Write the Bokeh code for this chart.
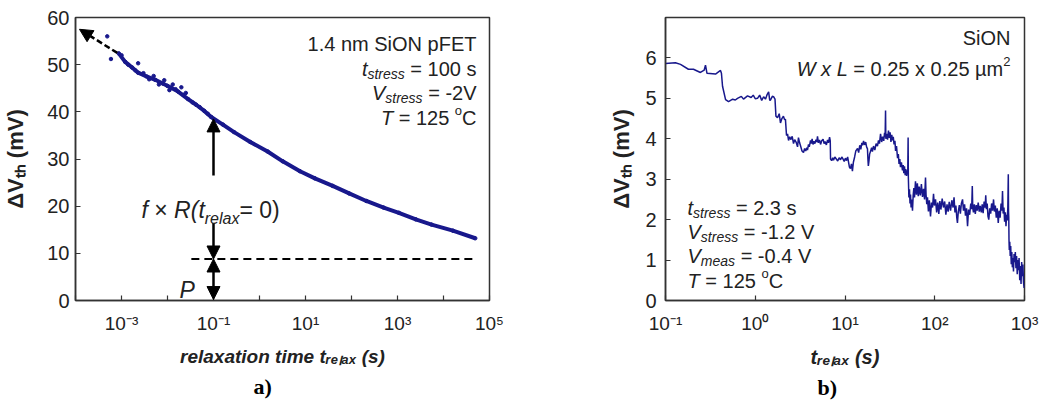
import math
from bokeh.plotting import figure
from bokeh.layouts import row
from bokeh.models import Label, Arrow, NormalHead, FixedTicker, Title
from bokeh.embed import file_html
from bokeh.resources import INLINE

# ---------------- data ----------------
# a) 1.4 nm SiON pFET relaxation (main band)
LEFT_T = [8.7e-4, 1.2e-3, 1.7e-3, 2.3e-3, 3.5e-3, 5.4e-3, 7.9e-3, 1.2e-2, 1.7e-2, 2.8e-2,
          4.2e-2, 6.3e-2, 8.9e-2, 0.16, 0.28, 0.63, 1.5, 3.2, 7.6, 16,
          39, 89, 210, 500, 1070, 2500, 5500, 1.6e4, 4.9e4]
LEFT_V = [52.4, 50.6, 49.4, 48.3, 47.5, 46.8, 46.0, 45.1, 44.3, 42.7,
          41.5, 40.2, 38.9, 37.3, 35.7, 33.6, 31.6, 29.5, 27.4, 25.9,
          24.3, 22.7, 21.1, 19.7, 18.6, 17.2, 16.1, 14.8, 13.2]
# a) scattered individual points of the early, noisy part
LEFT_DOT_T = [4.9e-4, 5.9e-4, 1.0e-3, 1.4e-3, 2.3e-3, 2.0e-3, 3.0e-3, 4.0e-3, 5.0e-3, 6.5e-3,
              8.5e-3, 1.0e-2, 1.1e-2, 1.3e-2, 1.5e-2, 2.0e-2, 2.2e-2, 2.5e-2, 3.5e-2, 5.0e-2, 7.5e-2]
LEFT_DOT_V = [56.0, 51.2, 52.0, 50.0, 50.3, 48.8, 48.2, 46.9, 47.6, 45.8,
              46.7, 45.5, 44.6, 45.8, 44.8, 45.2, 43.6, 44.0, 42.0, 41.0, 39.6]
P_LEVEL = 8.8
P_LINE_T = [0.033, 4.5e4]

# b) SiON W x L = 0.25 x 0.25 um^2 single-device relaxation
RIGHT_T = [0.100, 0.129, 0.147, 0.180, 0.205, 0.245, 0.270, 0.279, 0.290, 0.361,
           0.410, 0.420, 0.432, 0.467, 0.504, 0.560, 0.600, 0.634, 0.700, 0.740,
           0.820, 0.900, 0.950, 1.00, 1.06, 1.12, 1.18, 1.24, 1.30, 1.36,
           1.41, 1.45, 1.48, 1.55, 1.60, 1.66, 1.70, 1.77, 1.85, 1.91,
           1.98, 2.06, 2.12, 2.17,
           2.23, 2.29, 2.35, 2.42, 2.50, 2.58, 2.67, 2.75, 2.85, 2.96,
           3.03, 3.12, 3.20, 3.32, 3.45, 3.55, 3.65, 3.75, 3.82, 3.92,
           4.00, 4.13, 4.22, 4.30, 4.40, 4.50, 4.62, 4.75, 4.85, 4.94,
           5.05, 5.20, 5.34, 5.50, 5.70, 5.85, 6.00, 6.20, 6.39, 6.55,
           6.73, 6.85, 6.90, 7.10, 7.30, 7.45, 7.70, 8.00, 8.30, 8.60,
           8.92, 9.20, 9.50, 9.80, 10.1, 10.4, 10.7, 11.0, 11.2, 11.5,
           11.8, 12.1, 12.4, 12.8, 13.2, 13.8, 14.2, 14.6, 15.0, 15.4,
           15.7, 16.1, 16.5, 17.0, 17.4, 17.8, 18.0, 18.2, 18.5, 18.8,
           19.3, 19.8, 20.2, 20.8, 21.5, 22.2, 23.0, 23.6, 24.2, 24.9,
           25.6, 26.3, 27.0, 27.6, 28.0, 28.3, 28.5, 29.0, 29.8, 30.5,
           31.2, 31.8, 32.5, 33.2, 33.8, 34.5, 35.2, 36.0, 36.6, 37.5,
           38.5, 39.3, 40.0, 40.8, 41.5, 42.5, 43.7, 44.5, 45.2, 46.0,
           46.8, 47.5, 48.5, 49.3, 50.0, 50.5, 50.8, 51.5, 52.3, 53.0,
           53.7, 54.5, 55.5, 56.5, 57.5, 58.5, 59.5, 61.0, 62.5, 64.0,
           65.5, 67.0, 69.0, 71.0, 73.0, 75.0, 77.0, 78.9, 80.0, 81.5,
           83.0, 85.0, 87.0, 89.7, 92.0, 94.5, 96.9, 99.0, 102, 105,
           108, 111, 114, 117, 121, 125, 129, 133, 137, 141,
           145, 150, 155, 160, 164, 168, 172, 176, 179, 183,
           188, 193, 198, 204, 209, 215, 220, 226, 232, 238,
           245, 252, 258, 262, 265, 270, 276, 283, 290, 297,
           305, 313, 321, 330, 338, 346, 355, 364, 370, 376,
           384, 392, 400, 410, 420, 430, 441, 452, 462, 473,
           485, 497, 510, 522, 535, 548, 560, 569, 578, 590,
           600, 612, 622, 632, 643, 652, 660, 664, 668, 672,
           677, 685, 693, 702, 712, 722, 732, 743, 754, 765,
           777, 790, 803, 816, 830, 843, 857, 870, 885, 900,
           915, 930, 945, 960, 975, 990]
RIGHT_V = [5.86, 5.88, 5.84, 5.72, 5.72, 5.64, 5.70, 5.82, 5.62, 5.60,
           5.69, 5.62, 5.30, 4.97, 4.92, 4.98, 4.96, 5.00, 5.05, 4.98,
           5.06, 5.02, 5.08, 4.99, 5.00, 5.08, 4.95, 5.04, 4.98, 5.10,
           5.16, 4.95, 4.96, 5.05, 5.04, 4.98, 4.56, 4.52, 4.62, 4.39,
           4.50, 4.56, 4.48, 4.48,
           4.08, 4.12, 3.96, 4.05, 3.98, 4.06, 3.88, 3.98, 3.92, 3.80,
           4.03, 3.90, 3.82, 3.70, 3.66, 3.76, 3.70, 3.78, 3.72, 3.86,
           3.80, 3.96, 3.88, 4.00, 3.86, 3.94, 3.88, 3.98, 3.92, 4.06,
           3.90, 3.97, 3.86, 3.95, 3.99, 3.88, 3.93, 3.85, 3.97, 3.90,
           4.04, 3.95, 3.50, 3.46, 3.53, 3.47, 3.55, 3.50, 3.45, 3.53,
           3.48, 3.55, 3.50, 3.44, 3.52, 3.46, 3.55, 3.40, 3.30, 3.26,
           3.38, 3.20, 3.42, 3.55, 3.70, 3.76, 3.66, 3.84, 3.74, 3.90,
           3.84, 3.95, 3.85, 3.92, 3.80, 3.75, 3.50, 3.33, 3.45, 3.62,
           3.70, 3.78, 3.68, 3.82, 3.72, 3.88, 3.82, 3.96, 3.88, 4.12,
           3.92, 4.05, 3.95, 4.15, 4.05, 4.70, 4.00, 4.12, 3.98, 4.20,
           4.02, 4.16, 3.92, 4.10, 3.96, 4.05, 3.86, 3.95, 3.70, 3.82,
           3.52, 3.62, 3.38, 3.50, 3.30, 3.42, 3.22, 3.35, 3.15, 3.32,
           3.10, 3.25, 3.08, 3.22, 3.12, 4.03, 3.05, 2.55, 2.75, 2.40,
           2.62, 2.30, 2.50, 2.22, 2.60, 2.78, 2.55, 2.95, 2.62, 2.90,
           2.58, 2.82, 2.60, 2.88, 2.56, 2.76, 2.50, 3.04, 2.62, 2.38,
           2.55, 2.20, 2.48, 2.08, 2.42, 2.30, 2.64, 2.35, 2.50, 2.18,
           2.42, 2.14, 2.46, 2.25, 2.52, 2.30, 2.45, 2.12, 2.38, 2.20,
           2.44, 2.22, 2.48, 2.30, 2.55, 2.18, 2.35, 2.05, 1.92, 2.20,
           2.36, 2.15, 2.40, 2.50, 2.22, 2.38, 2.10, 2.28, 1.84, 2.25,
           2.12, 2.40, 2.26, 2.83, 2.30, 2.18, 2.38, 2.14, 2.36, 2.22,
           2.42, 2.20, 2.34, 2.18, 2.38, 2.16, 2.45, 2.30, 2.60, 2.26,
           2.40, 2.08, 2.00, 2.28, 2.15, 2.40, 2.22, 2.50, 2.20, 2.35,
           2.05, 2.28, 1.92, 2.22, 2.05, 2.40, 2.22, 2.71, 2.15, 2.30,
           1.95, 2.18, 1.84, 2.12, 1.98, 2.30, 3.12, 2.20, 2.05, 1.50,
           1.25, 1.45, 1.10, 1.35, 0.90, 1.20, 0.82, 1.05, 0.72, 1.15,
           0.95, 1.20, 0.80, 1.10, 0.65, 1.00, 0.75, 1.05, 0.50, 0.85,
           0.41, 0.95, 0.60, 0.89, 0.45, 0.31]

LEFT_X_RANGE = (1e-4, 1e5)
LEFT_Y_RANGE = (0, 60)
LEFT_X_TICKS = [1e-4, 1e-3, 1e-2, 1e-1, 1.0, 10.0, 100.0, 1000.0, 1e4, 1e5]
LEFT_X_TICK_LABELS = ["", "10\u207b\u00b3", "", "10\u207b\u00b9", "", "10\u00b9", "",
                      "10\u00b3", "", "10\u2075"]
LEFT_Y_TICKS = [0, 10, 20, 30, 40, 50, 60]
RIGHT_X_RANGE = (0.1, 1000)
RIGHT_Y_RANGE = (0, 7)
RIGHT_X_TICKS = [0.1, 1.0, 10.0, 100.0, 1000.0]
RIGHT_X_TICK_LABELS = ["10\u207b\u00b9", "10\u2070", "10\u00b9", "10\u00b2", "10\u00b3"]
RIGHT_Y_TICKS = [0, 1, 2, 3, 4, 5, 6]

LEFT_X_TITLE = "relaxation time t\u1d63\u2091\u2097\u2090\u2093 (s)"
RIGHT_X_TITLE = "t\u1d63\u2091\u2097\u2090\u2093 (s)"
Y_TITLE = "\u0394V\u209c\u2095 (mV)"

# ---------------- styling helpers ----------------
SANS = "Liberation Sans"
SERIF = "Liberation Serif"
INK = "#222222"
NAVY = "#18188c"

REG = {c: 556 for c in "0123456789"}
REG.update({' ': 278, '(': 333, ')': 333, '-': 333, '.': 278, '=': 584, '\u00d7': 584,
            '\u00b5': 577, 'C': 722, 'E': 667, 'F': 611, 'L': 556, 'N': 722, 'O': 778,
            'P': 667, 'R': 722, 'S': 667, 'T': 611, 'V': 667, 'W': 944, 'a': 556,
            'e': 556, 'f': 278, 'h': 556, 'i': 222, 'l': 222, 'm': 833, 'n': 556,
            'o': 556, 'p': 556, 'r': 333, 's': 500, 't': 278, 'x': 500, '\u0394': 668})


def tw(s, size):
    return sum(REG.get(c, 556) for c in s) * size / 1000.0


def put(fig, xd, yd, dx, dy, text, size, style):
    fig.add_layout(Label(x=xd, y=yd, x_offset=dx, y_offset=-dy, text=text,
                         text_font=SANS, text_font_size=f"{size}px",
                         text_font_style=style, text_color=INK,
                         text_align="left", text_baseline="alphabetic"))


def rich(fig, xd, yd, dx, dy, segs, align="left"):
    """Lay out one line of mixed-style text (sub/superscripts) inside the frame."""
    total = sum(tw(t, s) for t, s, st, _ in segs)
    x = dx - (total if align == "right" else 0)
    for t, s, st, shift in segs:
        lead = len(t) - len(t.lstrip(" "))
        put(fig, xd, yd, x + tw(" " * lead, s), dy - shift, t.strip(" "), s, st)
        x += tw(t, s)


def base_fig(width, xr, yr, xticks, xlabels, yticks, borders, ystand, ytitle_stand, xtitle,
             xtitle_size, tag, tag_offset):
    p = figure(width=width, height=407, x_axis_type="log", x_range=xr, y_range=yr,
               output_backend="svg", toolbar_location=None,
               min_border_left=borders[0], min_border_right=borders[1],
               min_border_top=borders[2], min_border_bottom=borders[3])
    p.title.visible = False
    p.background_fill_color = "white"
    p.border_fill_color = "white"
    p.outline_line_color = "#333333"
    p.outline_line_width = 1.5
    p.xgrid.visible = False
    p.ygrid.visible = False
    for ax in (p.xaxis[0], p.yaxis[0]):
        ax.axis_line_color = "#333333"
        ax.axis_line_width = 1.5
        ax.major_tick_in = 5
        ax.major_tick_out = 0
        ax.major_tick_line_color = "#333333"
        ax.major_tick_line_width = 1.2
        ax.minor_tick_line_color = None
    p.xaxis.ticker = FixedTicker(ticks=xticks)
    p.xaxis.major_label_overrides = {t: lab for t, lab in zip(xticks, xlabels)}
    p.xaxis.major_label_text_font = SANS
    p.xaxis.major_label_text_font_size = "19px"
    p.xaxis.major_label_text_color = INK
    p.xaxis.major_label_standoff = 12
    p.xaxis.axis_label = xtitle
    p.xaxis.axis_label_text_font = SANS
    p.xaxis.axis_label_text_font_size = f"{xtitle_size}px"
    p.xaxis.axis_label_text_font_style = "bold italic"
    p.xaxis.axis_label_text_color = INK
    p.xaxis.axis_label_standoff = 9
    p.yaxis.ticker = FixedTicker(ticks=yticks)
    p.yaxis.major_label_text_font = SANS
    p.yaxis.major_label_text_font_size = "20px"
    p.yaxis.major_label_text_color = INK
    p.yaxis.major_label_standoff = ystand
    p.yaxis.axis_label = Y_TITLE
    p.yaxis.axis_label_text_font = SANS
    p.yaxis.axis_label_text_font_size = "22px"
    p.yaxis.axis_label_text_font_style = "bold"
    p.yaxis.axis_label_text_color = INK
    p.yaxis.axis_label_standoff = ytitle_stand
    p.add_layout(Title(text=tag, text_font=SERIF, text_font_size="22px",
                       text_font_style="bold", text_color="black", align="left",
                       offset=tag_offset, standoff=4), "below")
    return p


# ---------------- panel a) ----------------
p1 = base_fig(575, LEFT_X_RANGE, LEFT_Y_RANGE, LEFT_X_TICKS, LEFT_X_TICK_LABELS, LEFT_Y_TICKS,
              (73, 86, 17, 103), 6, 16, LEFT_X_TITLE, 19, "a)", 178)
X0, Y0, OX, OY = LEFT_X_RANGE[0], LEFT_Y_RANGE[0], 73, 304

p1.line(P_LINE_T, [P_LEVEL, P_LEVEL], line_color="black", line_width=2, line_dash="8 5")
p1.line(LEFT_T, LEFT_V, line_color=NAVY, line_width=4)
p1.scatter(LEFT_T + LEFT_DOT_T, LEFT_V + LEFT_DOT_V, size=3.5, color=NAVY)

head = dict(size=13, fill_color="black", line_color="black")
p1.add_layout(Arrow(x_start=8.1e-4, y_start=52.5, x_end=1.22e-4, y_end=57.5,
                    line_width=2.5, line_dash="6 3", line_color="black",
                    end=NormalHead(**head)))
p1.add_layout(Arrow(x_start=0.1, y_start=26.5, x_end=0.1, y_end=38.5,
                    line_width=2.5, line_color="black", end=NormalHead(**head)))
p1.add_layout(Arrow(x_start=0.1, y_start=16.5, x_end=0.1, y_end=P_LEVEL,
                    line_width=2.5, line_color="black", end=NormalHead(**head)))
p1.add_layout(Arrow(x_start=0.1, y_start=P_LEVEL, x_end=0.1, y_end=0.2,
                    line_width=2.5, line_color="black",
                    start=NormalHead(**head), end=NormalHead(**head)))

rich(p1, X0, Y0, 474 - OX, 47 - OY, [("1.4 nm SiON pFET", 20, "normal", 0)], "right")
rich(p1, X0, Y0, 474 - OX, 72 - OY, [("t", 20, "italic", 0), ("stress", 14, "italic", -5),
                                       (" = 100 s", 20, "normal", 0)], "right")
rich(p1, X0, Y0, 474 - OX, 96 - OY, [("V", 20, "italic", 0), ("stress", 14, "italic", -5),
                                       (" = -2V", 20, "normal", 0)], "right")
rich(p1, X0, Y0, 474 - OX, 121 - OY, [("T", 20, "italic", 0), (" = 125 ", 20, "normal", 0),
                                        ("o", 13, "normal", 7), ("C", 20, "normal", 0)], "right")
rich(p1, X0, Y0, 139 - OX, 213 - OY, [("f", 23, "italic", 0), (" \u00d7 ", 23, "normal", 0),
                                        ("R(t", 23, "italic", 0), ("relax", 16, "italic", -9),
                                        ("= 0)", 23, "normal", 0)])
rich(p1, X0, Y0, 177 - OX, 293 - OY, [("P", 23, "italic", 0)])

# ---------------- panel b) ----------------
p2 = base_fig(467, RIGHT_X_RANGE, RIGHT_Y_RANGE, RIGHT_X_TICKS, RIGHT_X_TICK_LABELS, RIGHT_Y_TICKS,
              (90, 18, 8, 107), 9, 8, RIGHT_X_TITLE, 20, "b)", 152)
X0, Y0, OX, OY = RIGHT_X_RANGE[0], RIGHT_Y_RANGE[0], 665, 300

p2.line(RIGHT_T, RIGHT_V, line_color=NAVY, line_width=1.5)

rich(p2, X0, Y0, 1010 - OX, 37 - OY, [("SiON", 20, "normal", 0)], "right")
rich(p2, X0, Y0, 1010 - OX, 68 - OY, [("W", 20, "italic", 0), (" x ", 20, "italic", 0),
                                        ("L", 20, "italic", 0),
                                        (" = 0.25 x 0.25 \u00b5m", 20, "normal", 0),
                                        ("2", 13, "normal", 7)], "right")
rich(p2, X0, Y0, 687 - OX, 207 - OY, [("t", 20, "italic", 0), ("stress", 14, "italic", -5),
                                        (" = 2.3 s", 20, "normal", 0)])
rich(p2, X0, Y0, 687 - OX, 231 - OY, [("V", 20, "italic", 0), ("stress", 14, "italic", -5),
                                        (" = -1.2 V", 20, "normal", 0)])
rich(p2, X0, Y0, 687 - OX, 255 - OY, [("V", 20, "italic", 0), ("meas", 14, "italic", -5),
                                        (" = -0.4 V", 20, "normal", 0)])
rich(p2, X0, Y0, 687 - OX, 280 - OY, [("T", 20, "italic", 0), (" = 125 ", 20, "normal", 0),
                                        ("o", 13, "normal", 7), ("C", 20, "normal", 0)])

layout = row(p1, p2)
open("out.html", "w").write(file_html(layout, INLINE))
